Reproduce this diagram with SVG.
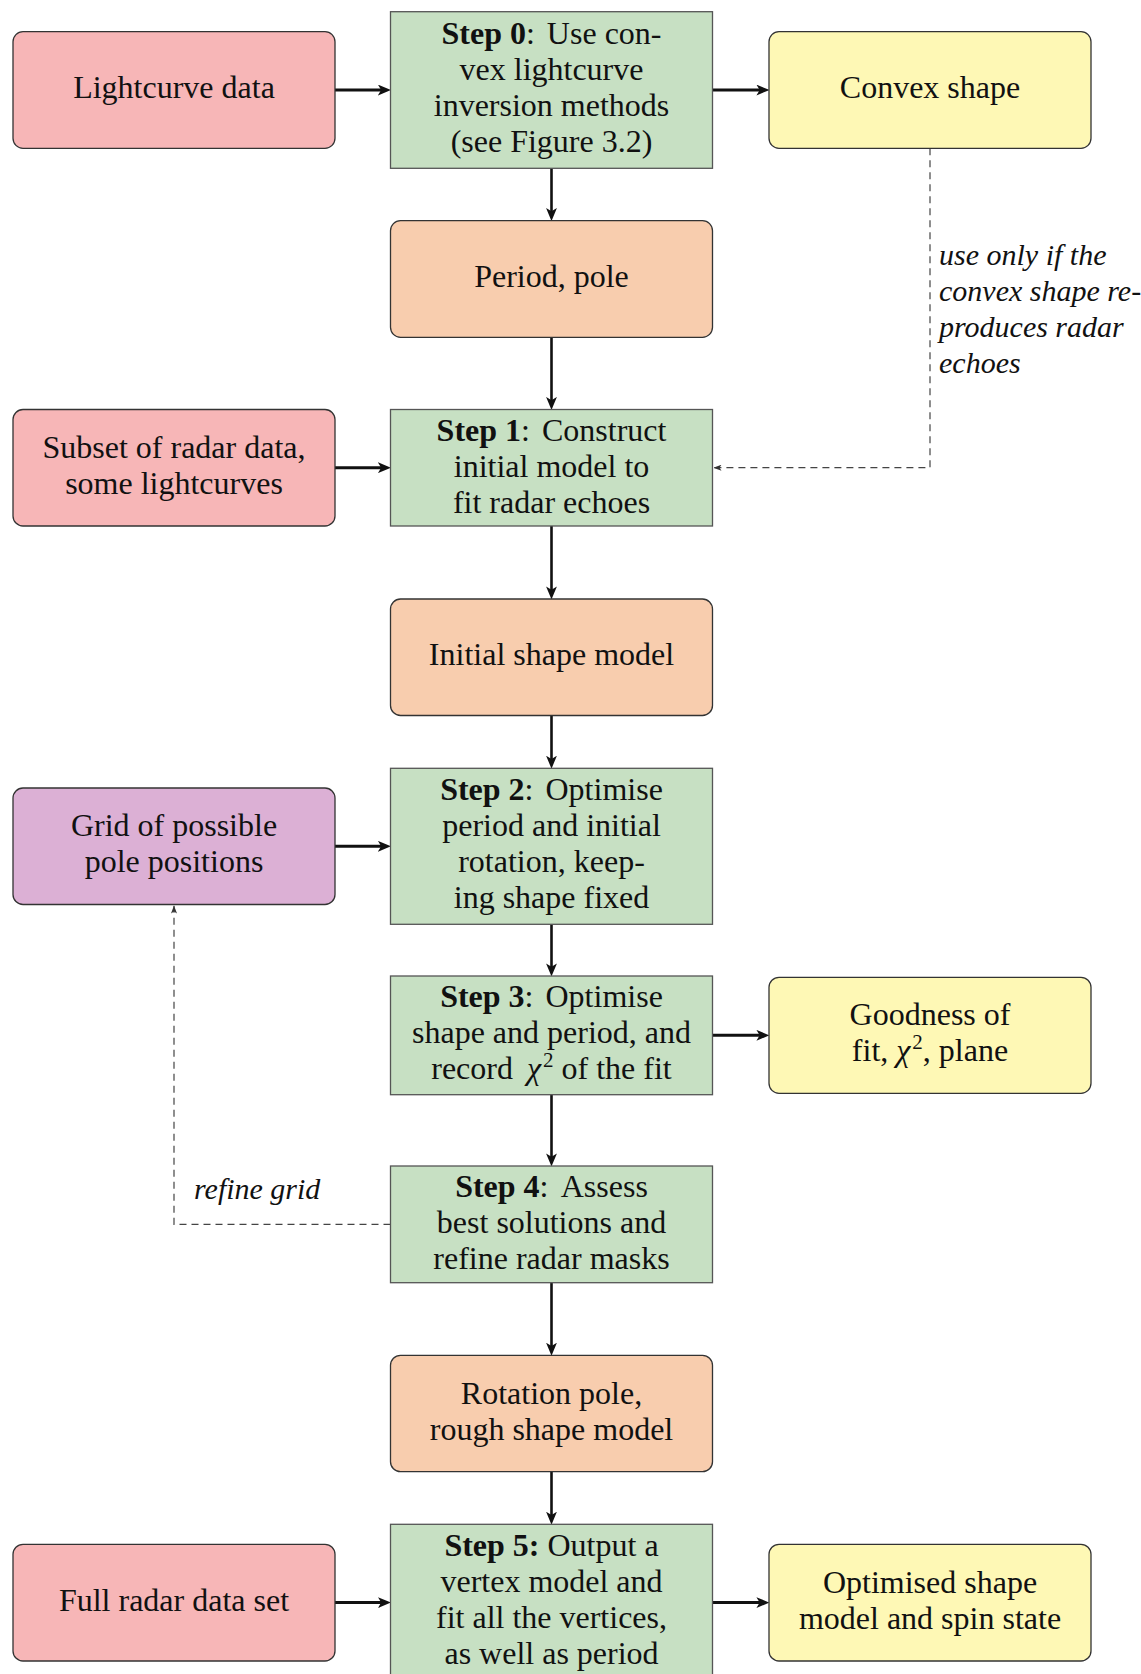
<svg xmlns="http://www.w3.org/2000/svg" width="1141" height="1674" viewBox="0 0 1141 1674">
  <style>
    .box { stroke: #333; stroke-width: 1.3; }
    .data { fill: #F7B6B7; }
    .step { fill: #C7E0C3; stroke: #555; }
    .result { fill: #F8CDAE; }
    .output { fill: #FEF8B5; }
    .grid { fill: #DCB0D5; }
    text { font-family: "Liberation Serif", "Times New Roman", serif; font-size: 32px; fill: #111; text-anchor: middle; }
    .b { font-weight: bold; }
    .note { font-style: italic; font-size: 30px; text-anchor: start; }
    .flow { stroke: #111; fill: none; }
    .h { stroke-width: 3; marker-end: url(#head); }
    .v { stroke-width: 2.6; marker-end: url(#head); }
    .dash { stroke: #444; stroke-width: 1.2; stroke-dasharray: 7 5; fill: none; marker-end: url(#small); }
  </style>
  <defs>
    <marker id="head" viewBox="0 0 12 10" refX="7" refY="5" markerWidth="13" markerHeight="11" markerUnits="userSpaceOnUse" orient="auto">
      <path d="M0,0 L12,5 L0,10 L3,5 Z" fill="#111"/>
    </marker>
    <marker id="small" viewBox="0 0 8 6" refX="8" refY="3" markerWidth="8" markerHeight="6" markerUnits="userSpaceOnUse" orient="auto">
      <path d="M0,0 L8,3 L0,6 L2,3 Z" fill="#333"/>
    </marker>
  </defs>

  <!-- connectors -->
  <g id="connectors">
    <line class="flow h" x1="335" y1="90" x2="385.5" y2="90"/>
    <line class="flow h" x1="712.5" y1="90" x2="764" y2="90"/>
    <line class="flow v" x1="551.5" y1="168.3" x2="551.5" y2="215.7"/>
    <line class="flow v" x1="551.5" y1="337.3" x2="551.5" y2="404.5"/>
    <line class="flow h" x1="335" y1="467.7" x2="385.5" y2="467.7"/>
    <line class="flow v" x1="551.5" y1="526" x2="551.5" y2="594"/>
    <line class="flow v" x1="551.5" y1="715.5" x2="551.5" y2="763.3"/>
    <line class="flow h" x1="335" y1="846.3" x2="385.5" y2="846.3"/>
    <line class="flow v" x1="551.5" y1="924.3" x2="551.5" y2="971"/>
    <line class="flow h" x1="712.5" y1="1035.3" x2="764" y2="1035.3"/>
    <line class="flow v" x1="551.5" y1="1094.7" x2="551.5" y2="1161"/>
    <line class="flow v" x1="551.5" y1="1282.7" x2="551.5" y2="1350.3"/>
    <line class="flow v" x1="551.5" y1="1471.7" x2="551.5" y2="1519.3"/>
    <line class="flow h" x1="335" y1="1602.6" x2="385.5" y2="1602.6"/>
    <line class="flow h" x1="712.5" y1="1602.6" x2="764" y2="1602.6"/>
    <!-- optional feedback paths -->
    <polyline class="dash" points="930,148.3 930,467.7 713.5,467.7"/>
    <polyline class="dash" points="390.5,1224.3 174,1224.3 174,905.5"/>
    <text class="note" x="939" y="265">use only if the</text>
    <text class="note" x="939" y="301">convex shape re-</text>
    <text class="note" x="939" y="337">produces radar</text>
    <text class="note" x="939" y="373">echoes</text>
    <text class="note" x="194" y="1199">refine grid</text>
  </g>

  <g id="lightcurve-data">
    <rect class="box data" x="13" y="31.7" width="322" height="116.6" rx="10"/>
    <text x="174" y="98">Lightcurve data</text>
  </g>

  <g id="step0">
    <rect class="box step" x="390.5" y="11.7" width="322" height="156.6"/>
    <text x="551.5" y="44"><tspan class="b">Step 0</tspan>:<tspan dx="4"> Use con-</tspan></text>
    <text x="551.5" y="80">vex lightcurve</text>
    <text x="551.5" y="116">inversion methods</text>
    <text x="551.5" y="152">(see Figure 3.2)</text>
  </g>

  <g id="convex-shape">
    <rect class="box output" x="769" y="31.7" width="322" height="116.6" rx="10"/>
    <text x="930" y="98">Convex shape</text>
  </g>

  <g id="period-pole">
    <rect class="box result" x="390.5" y="220.7" width="322" height="116.6" rx="10"/>
    <text x="551.5" y="287">Period, pole</text>
  </g>

  <g id="radar-subset">
    <rect class="box data" x="13" y="409.5" width="322" height="116.5" rx="10"/>
    <text x="174" y="457.7">Subset of radar data,</text>
    <text x="174" y="493.7">some lightcurves</text>
  </g>

  <g id="step1">
    <rect class="box step" x="390.5" y="409.5" width="322" height="116.5"/>
    <text x="551.5" y="441"><tspan class="b">Step 1</tspan>:<tspan dx="4"> Construct</tspan></text>
    <text x="551.5" y="477">initial model to</text>
    <text x="551.5" y="513">fit radar echoes</text>
  </g>

  <g id="initial-shape">
    <rect class="box result" x="390.5" y="599" width="322" height="116.5" rx="10"/>
    <text x="551.5" y="665">Initial shape model</text>
  </g>

  <g id="pole-grid">
    <rect class="box grid" x="13" y="788" width="322" height="116.5" rx="10"/>
    <text x="174" y="836.3">Grid of possible</text>
    <text x="174" y="872.3">pole positions</text>
  </g>

  <g id="step2">
    <rect class="box step" x="390.5" y="768.3" width="322" height="156"/>
    <text x="551.5" y="799.5"><tspan class="b">Step 2</tspan>:<tspan dx="4"> Optimise</tspan></text>
    <text x="551.5" y="835.5">period and initial</text>
    <text x="551.5" y="871.5">rotation, keep-</text>
    <text x="551.5" y="907.5">ing shape fixed</text>
  </g>

  <g id="step3">
    <rect class="box step" x="390.5" y="976" width="322" height="118.7"/>
    <text x="551.5" y="1007.3"><tspan class="b">Step 3</tspan>:<tspan dx="4"> Optimise</tspan></text>
    <text x="551.5" y="1043.3">shape and period, and</text>
    <text x="551.5" y="1079.3">record <tspan dx="6" font-style="italic">χ</tspan><tspan font-size="21" dx="2" dy="-12">2</tspan><tspan dy="12"> of the fit</tspan></text>
  </g>

  <g id="goodness-of-fit">
    <rect class="box output" x="769" y="977.3" width="322" height="116" rx="10"/>
    <text x="930" y="1025.3">Goodness of</text>
    <text x="930" y="1061.3">fit, <tspan font-style="italic">χ</tspan><tspan font-size="21" dx="2" dy="-12">2</tspan><tspan dy="12">, plane</tspan></text>
  </g>

  <g id="step4">
    <rect class="box step" x="390.5" y="1166" width="322" height="116.7"/>
    <text x="551.5" y="1197.3"><tspan class="b">Step 4</tspan>:<tspan dx="6"> Assess</tspan></text>
    <text x="551.5" y="1233.3">best solutions and</text>
    <text x="551.5" y="1269.3">refine radar masks</text>
  </g>

  <g id="rotation-pole">
    <rect class="box result" x="390.5" y="1355.3" width="322" height="116.4" rx="10"/>
    <text x="551.5" y="1403.5">Rotation pole,</text>
    <text x="551.5" y="1439.5">rough shape model</text>
  </g>

  <g id="full-radar">
    <rect class="box data" x="13" y="1544.3" width="322" height="116.7" rx="10"/>
    <text x="174" y="1611">Full radar data set</text>
  </g>

  <g id="step5">
    <rect class="box step" x="390.5" y="1524.3" width="322" height="160"/>
    <text x="551.5" y="1556"><tspan class="b">Step 5:</tspan> Output a</text>
    <text x="551.5" y="1592">vertex model and</text>
    <text x="551.5" y="1628">fit all the vertices,</text>
    <text x="551.5" y="1664">as well as period</text>
  </g>

  <g id="optimised-shape">
    <rect class="box output" x="769" y="1544.3" width="322" height="116.7" rx="10"/>
    <text x="930" y="1592.6">Optimised shape</text>
    <text x="930" y="1628.6">model and spin state</text>
  </g>
</svg>
